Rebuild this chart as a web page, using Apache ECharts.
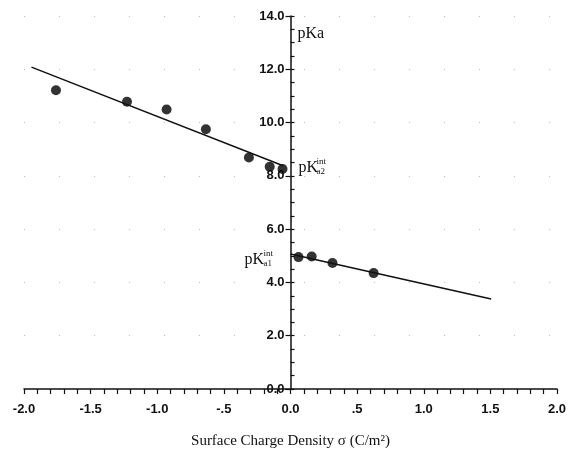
<!DOCTYPE html>
<html>
<head>
<meta charset="utf-8">
<script src="https://cdn.jsdelivr.net/npm/echarts@6/dist/echarts.min.js"></script>
<style>html,body{margin:0;padding:0;background:#fff}#c{width:572px;height:455px}</style>
</head>
<body>
<div id="c"></div>
<script>
// ---- data ----
const upperX = [-1.76, -1.227, -0.93, -0.635, -0.312, -0.156, -0.060];
const upperY = [11.21, 10.78, 10.49, 9.75, 8.69, 8.34, 8.26];
const lowerX = [0.060, 0.159, 0.315, 0.624];
const lowerY = [4.95, 4.97, 4.73, 4.35];
const fitUpperX = [-1.944, -0.055];
const fitUpperY = [12.08, 8.38];
const fitLowerX = [0.0, 1.506];
const fitLowerY = [5.07, 3.38];
const xTickLabels = {'-2': '-2.0', '-1.5': '-1.5', '-1': '-1.0', '-0.5': '-.5', '0': '0.0', '0.5': '.5', '1': '1.0', '1.5': '1.5', '2': '2.0'};
const yTickLabels = {'0': '0.0', '2': '2.0', '4': '4.0', '6': '6.0', '8': '8.0', '10': '10.0', '12': '12.0', '14': '14.0'};
const xTitle = 'Surface Charge Density σ (C/m²)';

const zip = (a, b) => a.map((v, i) => [v, b[i]]);
const chart = echarts.init(document.getElementById('c'), null, {renderer: 'canvas'});
const labelFont = {fontFamily: 'Liberation Sans, Arial', fontSize: 13, fontWeight: 'bold', color: '#111'};
const serif = 'Liberation Serif, Times New Roman, serif';
const gridLeft = 24, gridRight = 15;
const plotW = 572 - gridLeft - gridRight;
const xMin = -2, xMax = 2;
const yAxisOffset = -plotW * (0 - xMin) / (xMax - xMin); // y axis sits at x = 0

chart.setOption({
  animation: false,
  grid: {left: gridLeft, right: gridRight, top: 16, bottom: 66},
  xAxis: {
    type: 'value', min: xMin, max: xMax, interval: 0.5,
    axisLine: {onZero: false, lineStyle: {color: '#111', width: 1.5}},
    axisTick: {show: true, length: 5, lineStyle: {color: '#111', width: 1.2}},
    minorTick: {show: true, splitNumber: 5, length: 5, lineStyle: {color: '#111', width: 1.2}},
    axisLabel: Object.assign({margin: 14, formatter: v => xTickLabels[String(v)] ?? ''}, labelFont),
    splitLine: {show: false},
    name: xTitle, nameLocation: 'middle', nameGap: 45,
    nameTextStyle: {fontFamily: serif, fontSize: 15, color: '#111'}
  },
  yAxis: [{
    type: 'value', min: 0, max: 14, interval: 2, position: 'left', offset: yAxisOffset,
    axisLine: {onZero: false, lineStyle: {color: '#111', width: 1.5}},
    axisTick: {show: true, length: 5, lineStyle: {color: '#111', width: 1.2}},
    axisLabel: Object.assign({margin: 6, formatter: v => yTickLabels[String(v)] ?? ''}, labelFont),
    splitLine: {show: true, lineStyle: {color: '#bbb', width: 1, type: [1, 34]}}
  }, {
    type: 'value', min: 0, max: 14, interval: 0.5, position: 'left', offset: yAxisOffset,
    axisLine: {show: false, onZero: false},
    axisTick: {show: true, inside: true, length: 4, lineStyle: {color: '#111', width: 1.2}},
    axisLabel: {show: false},
    splitLine: {show: false}
  }],
  series: [
    {type: 'line', data: zip(fitUpperX, fitUpperY), symbol: 'none', lineStyle: {color: '#111', width: 1.5}},
    {type: 'line', data: zip(fitLowerX, fitLowerY), symbol: 'none', lineStyle: {color: '#111', width: 1.5}},
    {type: 'scatter', data: zip(upperX, upperY), symbol: 'circle', symbolSize: 10, itemStyle: {color: '#000'}},
    {type: 'scatter', data: zip(lowerX, lowerY), symbol: 'circle', symbolSize: 10, itemStyle: {color: '#000'}}
  ]
});

// annotations anchored to data positions
const p = (x, y) => chart.convertToPixel({gridIndex: 0}, [x, y]);
const a = p(0, 13.35), b = p(0, 8.3), c = p(0, 4.85);
const txt = (x, y, s, size, align) => ({type: 'text', x: x, y: y, style: {text: s, font: size + 'px ' + serif, fill: '#111', textAlign: align || 'left', textVerticalAlign: 'middle'}});
chart.setOption({graphic: [
  txt(a[0] + 7, a[1], 'pKa', 16),
  txt(b[0] + 8, b[1], 'pK', 16),
  txt(b[0] + 26, b[1] - 6, 'int', 9),
  txt(b[0] + 26, b[1] + 4, 'a2', 9),
  txt(c[0] - 46, c[1], 'pK', 16),
  txt(c[0] - 27, c[1] - 6, 'int', 9),
  txt(c[0] - 27, c[1] + 4, 'a1', 9)
]});
</script>
</body>
</html>
